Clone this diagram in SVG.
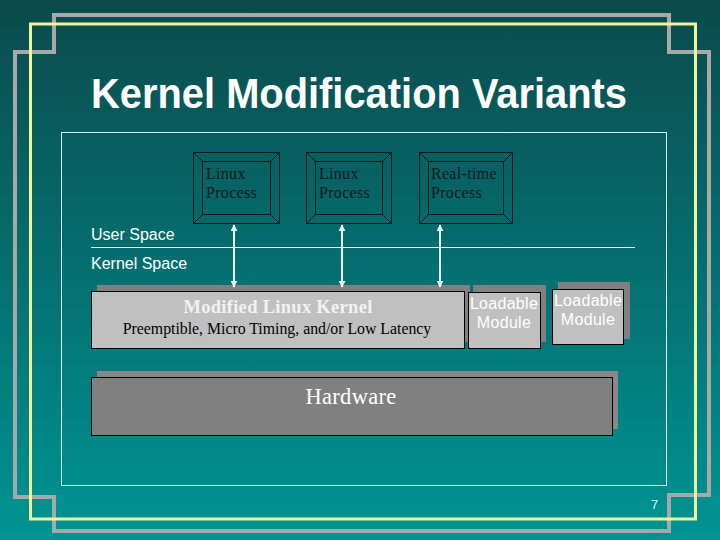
<svg xmlns="http://www.w3.org/2000/svg" width="720" height="540" viewBox="0 0 720 540">
<defs>
<linearGradient id="bg" x1="0" y1="0" x2="0" y2="1">
<stop offset="0" stop-color="#0b4a4c"/>
<stop offset="1" stop-color="#009494"/>
</linearGradient>
<marker id="ah" viewBox="0 0 10 10" refX="9" refY="5" markerWidth="3.5" markerHeight="3.5" orient="auto-start-reverse" markerUnits="strokeWidth">
<path d="M0,0 L10,5 L0,10 Z" fill="#eaffff"/>
</marker>
<style>
.proc{fill:none;stroke:#0a1a1a;stroke-width:1}
.ptxt{font-family:"Liberation Serif","Times New Roman",serif;font-size:16px;fill:#0d1a1a;letter-spacing:0.3px}
.lbl{font-family:"Liberation Sans",Arial,sans-serif;font-size:16px;fill:#ffffff}
.mod{font-family:"Liberation Sans",Arial,sans-serif;font-size:16px;fill:#ffffff;letter-spacing:0.3px;text-anchor:middle}
.arr{stroke:#eaffff;stroke-width:2;fill:none}
.box{stroke:#000000;stroke-width:1}
</style>
</defs>
<rect width="720" height="540" fill="url(#bg)"/>
<path d="M15,52 L54,52 L54,15 L669,15 L669,52 L709,52 L709,495 L669,495 L669,531 L54,531 L54,497 L15,497 Z" fill="none" stroke="#a7a9a9" stroke-width="4"/>
<rect x="30.5" y="24" width="665" height="495" fill="none" stroke="#eef59a" stroke-width="3"/>
<rect x="61.5" y="132.5" width="605" height="353" fill="none" stroke="#d8ffff" stroke-width="1"/>
<text x="91" y="108" font-family="Liberation Sans,Arial,sans-serif" font-weight="bold" font-size="42" fill="#ffffff" textLength="536" lengthAdjust="spacingAndGlyphs">Kernel Modification Variants</text>

<g id="proc1">
<rect class="proc" x="193.5" y="152.5" width="86" height="71"/>
<rect class="proc" x="202.5" y="161.5" width="68" height="53"/>
<path class="proc" d="M193.5,152.5 L202.5,161.5 M279.5,152.5 L270.5,161.5 M193.5,223.5 L202.5,214.5 M279.5,223.5 L270.5,214.5"/>
<text class="ptxt" x="206" y="179">Linux</text>
<text class="ptxt" x="206" y="198">Process</text>
</g>
<g id="proc2">
<rect class="proc" x="306.5" y="152.5" width="85" height="71"/>
<rect class="proc" x="315.5" y="161.5" width="67" height="53"/>
<path class="proc" d="M306.5,152.5 L315.5,161.5 M391.5,152.5 L382.5,161.5 M306.5,223.5 L315.5,214.5 M391.5,223.5 L382.5,214.5"/>
<text class="ptxt" x="319" y="179">Linux</text>
<text class="ptxt" x="319" y="198">Process</text>
</g>
<g id="proc3">
<rect class="proc" x="419.5" y="152.5" width="93" height="71"/>
<rect class="proc" x="428.5" y="161.5" width="75" height="53"/>
<path class="proc" d="M419.5,152.5 L428.5,161.5 M512.5,152.5 L503.5,161.5 M419.5,223.5 L428.5,214.5 M512.5,223.5 L503.5,214.5"/>
<text class="ptxt" x="431" y="179">Real-time</text>
<text class="ptxt" x="431" y="198">Process</text>
</g>

<g id="spaces">
<text class="lbl" x="91" y="240">User Space</text>
<line x1="91" y1="247.5" x2="635" y2="247.5" stroke="#f0ffff" stroke-width="1"/>
<text class="lbl" x="91" y="269">Kernel Space</text>
</g>

<g id="kernel">
<rect x="97" y="285" width="373" height="57" fill="#808080"/>
<rect class="box" x="91.5" y="291.5" width="373" height="57" fill="#c0c0c0"/>
<text x="278" y="313" text-anchor="middle" font-family="Liberation Serif,Times New Roman,serif" font-weight="bold" font-size="18.5" fill="#f2f2f2" letter-spacing="0.3">Modified Linux Kernel</text>
<text x="277" y="334" text-anchor="middle" font-family="Liberation Serif,Times New Roman,serif" font-size="15.8" fill="#000000">Preemptible, Micro Timing, and/or Low Latency</text>
</g>

<g id="module1">
<rect x="473" y="285" width="73" height="57" fill="#808080"/>
<rect class="box" x="468.5" y="292.5" width="72" height="56" fill="#c0c0c0"/>
<text class="mod" x="504" y="309">Loadable</text>
<text class="mod" x="504" y="328">Module</text>
</g>
<g id="module2">
<rect x="558" y="282" width="72" height="57" fill="#808080"/>
<rect class="box" x="552.5" y="289.5" width="71" height="55" fill="#c0c0c0"/>
<text class="mod" x="588" y="306">Loadable</text>
<text class="mod" x="588" y="325">Module</text>
</g>

<g id="hardware">
<rect x="97" y="371" width="521" height="58" fill="#888888"/>
<rect class="box" x="91.5" y="377.5" width="521" height="58" fill="#808080"/>
<text x="351" y="404" text-anchor="middle" font-family="Liberation Serif,Times New Roman,serif" font-size="22.5" fill="#ffffff" letter-spacing="0.3">Hardware</text>
</g>

<g id="connectors">
<line class="arr" x1="234" y1="225" x2="234" y2="287" marker-start="url(#ah)" marker-end="url(#ah)"/>
<line class="arr" x1="342" y1="225" x2="342" y2="287" marker-start="url(#ah)" marker-end="url(#ah)"/>
<line class="arr" x1="440" y1="225" x2="440" y2="287" marker-start="url(#ah)" marker-end="url(#ah)"/>
</g>

<text x="651" y="509" font-family="Liberation Sans,Arial,sans-serif" font-size="13" fill="#c8ffff">7</text>
</svg>
